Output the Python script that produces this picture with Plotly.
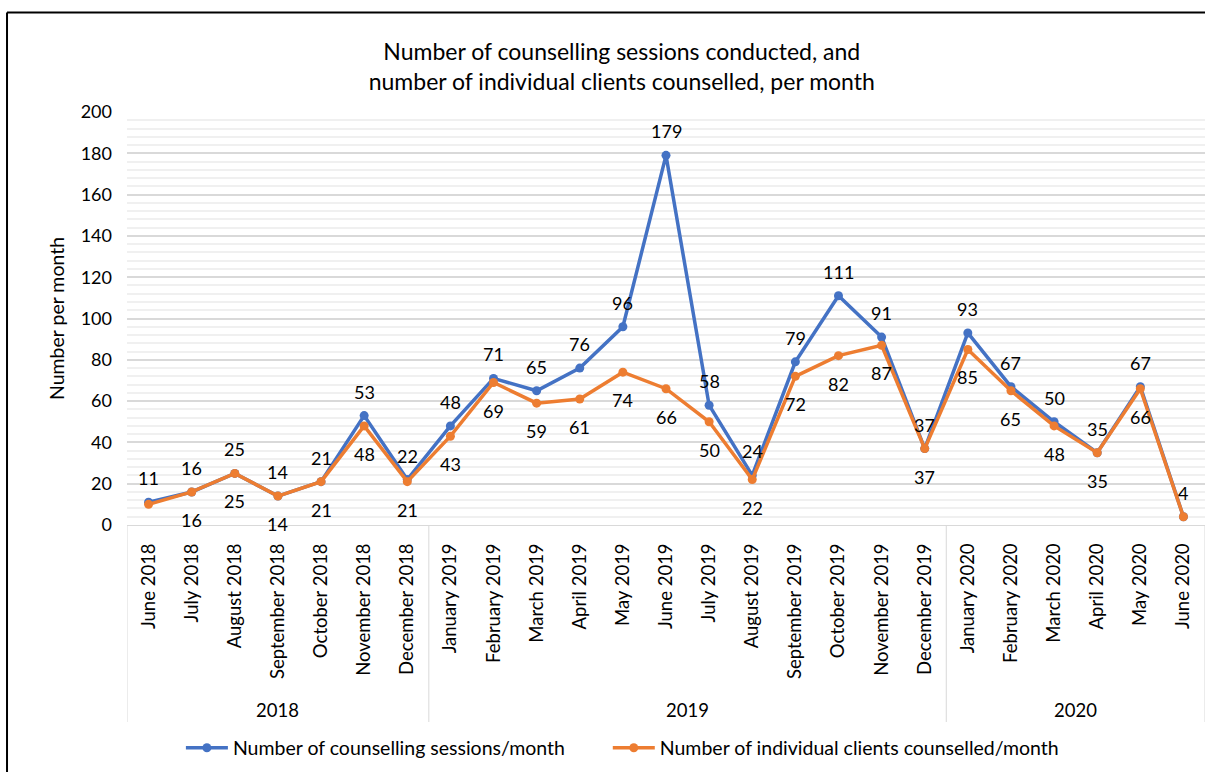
import plotly.graph_objects as go

# Monthly counts, June 2018 – June 2020
months = [
    "June 2018", "July 2018", "August 2018", "September 2018", "October 2018",
    "November 2018", "December 2018",
    "January 2019", "February 2019", "March 2019", "April 2019", "May 2019",
    "June 2019", "July 2019", "August 2019", "September 2019", "October 2019",
    "November 2019", "December 2019",
    "January 2020", "February 2020", "March 2020", "April 2020", "May 2020",
    "June 2020",
]
years = ["2018"] * 7 + ["2019"] * 12 + ["2020"] * 6

sessions = [11, 16, 25, 14, 21, 53, 22, 48, 71, 65, 76, 96, 179, 58, 24,
            79, 111, 91, 37, 93, 67, 50, 35, 67, 4]
clients = [10, 16, 25, 14, 21, 48, 21, 43, 69, 59, 61, 74, 66, 50, 22,
           72, 82, 87, 37, 85, 65, 48, 35, 66, 4]
# data labels shown for the clients series (first and last are hidden)
client_label_shown = [False] + [True] * 23 + [False]

BLUE = "#4472C4"
ORANGE = "#ED7D31"
FONT = "Lato, 'Open Sans', sans-serif"
TXT = "#000000"

fig = go.Figure()
fig.add_trace(go.Scatter(
    x=months, y=sessions, mode="lines+markers",
    name="Number of counselling sessions/month",
    line=dict(color=BLUE, width=3.5),
    marker=dict(color=BLUE, size=9),
    legend="legend",
))
fig.add_trace(go.Scatter(
    x=months, y=clients, mode="lines+markers",
    name="Number of individual clients counselled/month",
    line=dict(color=ORANGE, width=3.5),
    marker=dict(color=ORANGE, size=9),
    legend="legend2",
))

# data labels: sessions above, clients below
for m, v in zip(months, sessions):
    fig.add_annotation(x=m, y=v, text=str(v), showarrow=False, yshift=24,
                       font=dict(family=FONT, size=18, color=TXT))
for m, v, show in zip(months, clients, client_label_shown):
    if show:
        fig.add_annotation(x=m, y=v, text=str(v), showarrow=False, yshift=-28,
                           font=dict(family=FONT, size=18, color=TXT))

# year groups under the month labels
GROUP_BOTTOM = -0.477
groups = []
for i, yr in enumerate(years):
    if not groups or groups[-1][0] != yr:
        groups.append([yr, i, i])
    else:
        groups[-1][2] = i
for yr, i0, i1 in groups:
    fig.add_annotation(x=(i0 + i1) / 2, y=-0.448, xref="x", yref="paper",
                       text=yr, showarrow=False, yanchor="middle",
                       font=dict(family=FONT, size=18.5, color=TXT))
    fig.add_shape(type="line", xref="x", yref="paper",
                  x0=i0 - 0.5, x1=i0 - 0.5, y0=0, y1=GROUP_BOTTOM,
                  line=dict(color="#d9d9d9", width=1))
fig.add_shape(type="line", xref="x", yref="paper",
              x0=len(months) - 0.5, x1=len(months) - 0.5, y0=0, y1=GROUP_BOTTOM,
              line=dict(color="#d9d9d9", width=1))

# chart frame (top and left edges)
fig.add_shape(type="line", xref="paper", yref="paper",
              x0=-0.1113, x1=1.0, y0=1.241, y1=1.241,
              line=dict(color="#000000", width=2))
fig.add_shape(type="line", xref="paper", yref="paper",
              x0=-0.1113, x1=-0.1113, y0=1.241, y1=-0.62,
              line=dict(color="#000000", width=2))

legend_style = dict(
    orientation="h", xanchor="left", y=-0.54, yanchor="middle",
    font=dict(family=FONT, size=19.5, color=TXT),
    itemwidth=42, bgcolor="rgba(0,0,0,0)",
)

fig.update_layout(
    width=1205, height=772,
    margin=dict(l=127, r=0, t=112, b=247),
    paper_bgcolor="white", plot_bgcolor="white",
    font=dict(family=FONT, size=18, color=TXT),
    title=dict(
        text="Number of counselling sessions conducted, and<br>"
             "number of individual clients counselled, per month",
        x=0.516, xref="container", xanchor="center",
        y=0.922, yref="container", yanchor="middle",
        font=dict(family=FONT, size=23, color=TXT),
    ),
    showlegend=True,
    legend=dict(x=0.05, **legend_style),
    legend2=dict(x=0.446, **legend_style),
    xaxis=dict(
        type="category", tickangle=-90, ticks="", showgrid=False,
        showline=True, linecolor="#d9d9d9", linewidth=1,
        ticklabelstandoff=10, tickfont=dict(family=FONT, size=18.5, color=TXT),
        range=[-0.5, len(months) - 0.5],
    ),
    yaxis=dict(
        range=[0, 200], dtick=20, tick0=0,
        showgrid=True, gridcolor="#d9d9d9", gridwidth=1.5,
        minor=dict(dtick=4, showgrid=True, gridcolor="#f0f0f0", gridwidth=1.5),
        zeroline=False, showline=False, ticks="",
        ticklabelstandoff=14, tickfont=dict(family=FONT, size=18, color=TXT),
        title=dict(text="Number per month", standoff=10,
                   font=dict(family=FONT, size=19.5, color=TXT)),
    ),
)

fig.write_html("out.html")
